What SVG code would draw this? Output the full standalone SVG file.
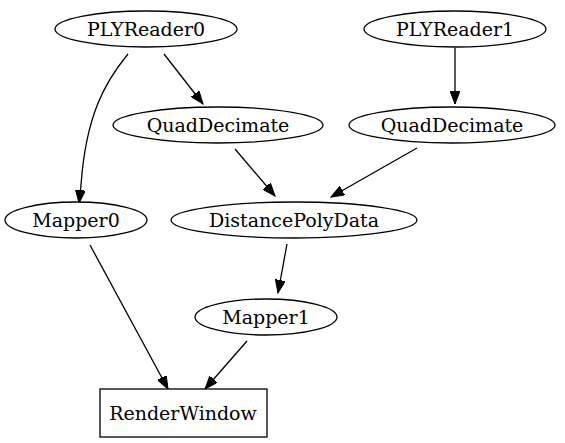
<svg xmlns="http://www.w3.org/2000/svg" width="565" height="443" viewBox="0 0 565 443">
<style>
.n ellipse,.n rect{fill:#fff;stroke:#000;stroke-width:1.3}
.n text{font-family:"DejaVu Serif","Liberation Serif",serif;font-size:19px;text-anchor:middle;fill:#000}
.e path{fill:none;stroke:#000;stroke-width:1.3;marker-end:url(#a)}
</style>
<defs>
<marker id="a" markerWidth="14" markerHeight="10" refX="13" refY="5" orient="auto" markerUnits="userSpaceOnUse">
<path d="M0,0L13,5L0,10Z" fill="#000" stroke="#000"/>
</marker>
</defs>
<rect width="565" height="443" fill="#fff"/>
<g class="e">
<path d="M128,54C105,82 86,115 81,185L79,203"/>
<path d="M164,54L203,104"/>
<path d="M455,48L455,104"/>
<path d="M235,149L275,196"/>
<path d="M417,148L331,197"/>
<path d="M287,244L278,293"/>
<path d="M90,245L168,389"/>
<path d="M247,341L205,389"/>
</g>
<g class="n" id="PLYReader0"><ellipse cx="146" cy="29" rx="91" ry="18"/><text x="146" y="36">PLYReader0</text></g>
<g class="n" id="PLYReader1"><ellipse cx="455" cy="29" rx="91" ry="18"/><text x="455" y="36">PLYReader1</text></g>
<g class="n" id="QuadDecimate0"><ellipse cx="218" cy="125" rx="105" ry="18"/><text x="218" y="132">QuadDecimate</text></g>
<g class="n" id="QuadDecimate1"><ellipse cx="452" cy="125" rx="103" ry="18"/><text x="452" y="132">QuadDecimate</text></g>
<g class="n" id="Mapper0"><ellipse cx="76" cy="220" rx="71" ry="18"/><text x="76" y="227">Mapper0</text></g>
<g class="n" id="DistancePolyData"><ellipse cx="294" cy="220" rx="123" ry="18"/><text x="294" y="227">DistancePolyData</text></g>
<g class="n" id="Mapper1"><ellipse cx="266" cy="317" rx="71" ry="18"/><text x="266" y="324">Mapper1</text></g>
<g class="n" id="RenderWindow"><rect x="100" y="389" width="167" height="48"/><text x="183" y="420">RenderWindow</text></g>
</svg>
